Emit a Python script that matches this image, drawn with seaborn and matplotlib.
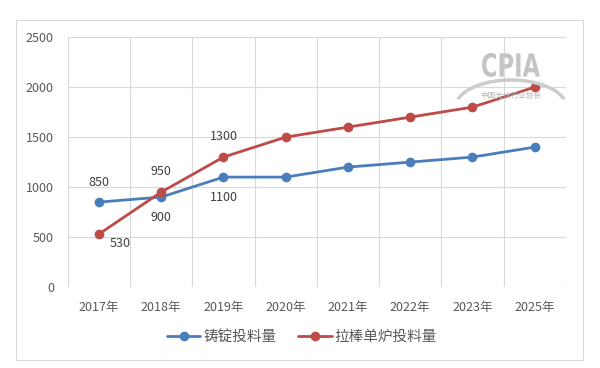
import numpy as np
import pandas as pd
import matplotlib
matplotlib.use("Agg")
import matplotlib.pyplot as plt
from matplotlib.patches import Rectangle, Arc, PathPatch
from matplotlib.textpath import TextPath
from matplotlib.font_manager import FontProperties
from matplotlib.transforms import Affine2D
import seaborn as sns

years = ["2017年", "2018年", "2019年", "2020年", "2021年", "2022年", "2023年", "2025年"]
ingot = [850, 900, 1100, 1100, 1200, 1250, 1300, 1400]
pulling = [530, 950, 1300, 1500, 1600, 1700, 1800, 2000]
series_names = ["铸锭投料量", "拉棒单炉投料量"]
yticks = [0, 500, 1000, 1500, 2000, 2500]

df = pd.DataFrame({
    "year": years * 2,
    "value": ingot + pulling,
    "series": [series_names[0]] * len(years) + [series_names[1]] * len(years),
})

sns.set_theme(style="white")
plt.rcParams['font.family'] = ['Noto Sans CJK SC', 'DejaVu Sans']

fig = plt.figure(figsize=(6, 3.68), dpi=100)
ax = fig.add_axes([0.113, 0.22, 0.83, 0.679])

# outer chart border
fig.patches.append(Rectangle((16 / 600, 1 - 360 / 368), 567 / 600, 340 / 368,
                             transform=fig.transFigure, fill=False,
                             edgecolor="#d9d9d9", linewidth=0.8))

colors = {series_names[0]: "#4a7ebb", series_names[1]: "#be4b48"}
sns.lineplot(data=df, x="year", y="value", hue="series", palette=colors,
             marker="o", markersize=7, markeredgewidth=0, linewidth=2,
             sort=False, ax=ax, zorder=3)

ax.set_xlim(-0.5, len(years) - 0.5)
ax.set_ylim(0, 2500)
ax.set_yticks(yticks)
ax.set_xticks(range(len(years)))
ax.set_xticks(np.arange(-0.5, len(years), 1), minor=True)
ax.grid(True, axis="y", color="#d9d9d9", linewidth=0.8)
ax.grid(True, axis="x", which="minor", color="#d9d9d9", linewidth=0.8)
ax.grid(False, axis="x", which="major")
ax.tick_params(axis="both", which="both", length=0, labelsize=9, labelcolor="#595959")
ax.tick_params(axis="x", pad=10)
ax.tick_params(axis="y", pad=10)
for s in ax.spines.values():
    s.set_visible(False)
ax.set_xlabel("")
ax.set_ylabel("")

# data labels for the first three years
lab_kw = dict(fontsize=9, color="#404040", ha="center", va="center")
ax.annotate(str(ingot[0]), (0, ingot[0]), xytext=(0, 14), textcoords="offset points", **lab_kw)
ax.annotate(str(ingot[1]), (1, ingot[1]), xytext=(0, -14.5), textcoords="offset points", **lab_kw)
ax.annotate(str(ingot[2]), (2, ingot[2]), xytext=(0, -14.5), textcoords="offset points", **lab_kw)
ax.annotate(str(pulling[0]), (0, pulling[0]), xytext=(15, -7), textcoords="offset points", **lab_kw)
ax.annotate(str(pulling[1]), (1, pulling[1]), xytext=(0, 14.5), textcoords="offset points", **lab_kw)
ax.annotate(str(pulling[2]), (2, pulling[2]), xytext=(0, 14.5), textcoords="offset points", **lab_kw)

# CPIA watermark: condensed bold lettering, squeezed to the logo's box
tp = TextPath((0, 0), "CPIA", size=1, prop=FontProperties(family="DejaVu Sans", weight="bold"))
ext = tp.get_extents()
box_w, box_h = 58 / 600, 24 / 368
tr = (Affine2D().translate(-ext.x0, -ext.y0)
      .scale(box_w / ext.width, box_h / ext.height)
      .translate(482 / 600, 1 - 77 / 368) + fig.transFigure)
fig.patches.append(PathPatch(tp, transform=tr, facecolor="#c4c4c4", edgecolor="none"))
fig.text(511 / 600, 1 - 96 / 368, "中国光伏行业协会", fontsize=5.5,
         color="#b5b5b5", ha="center", va="center")
fig.patches.append(Arc((511 / 600, 1 - 108 / 368), 112 / 600, 56 / 368, theta1=15, theta2=165,
                       transform=fig.transFigure, color="#cccccc", linewidth=2.5))

leg = ax.legend(loc="center", bbox_to_anchor=(302 / 600, 1 - 337 / 368),
                bbox_transform=fig.transFigure, ncol=2, frameon=False,
                fontsize=10.5, handlelength=2.3, columnspacing=1.5, handletextpad=0.2)
for t in leg.get_texts():
    t.set_color("#595959")

fig.savefig("out.png", dpi=100)
